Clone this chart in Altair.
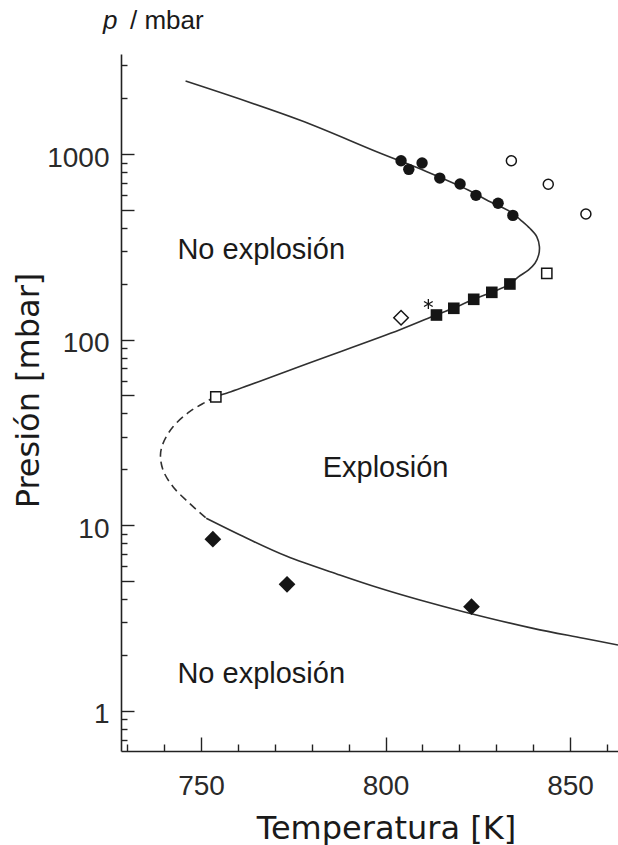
import altair as alt
import pandas as pd

# ---------------- values ----------------
# explosion-limit curve (T in K, p in mbar), in drawing order
curve_upper_T = [745.8, 776.7, 797.6, 811.2, 822.4, 827.4, 834.5, 836.4, 839.1, 841.0,
                 841.7, 841.5, 840.5, 838.7, 836.0, 833.7, 828.8, 823.9, 818.5, 813.8,
                 803.9, 779.5, 756.9, 754.0]
curve_upper_p = [2472, 1525, 1029, 803, 640, 565, 480, 445, 398, 358,
                 317, 286, 258, 237, 218, 199, 180, 165, 148, 136,
                 113, 75.1, 51.4, 49.5]
curve_dashed_T = [754.0, 751.4, 746.9, 742.4, 739.7, 739.0, 739.7, 742.4, 746.9, 751.4]
curve_dashed_p = [49.5, 46.3, 40.9, 33.9, 27.6, 23.9, 19.8, 16.1, 13.1, 10.9]
curve_lower_T = [751.4, 762.3, 773.1, 787.6, 798.5, 809.3, 821.1, 840.0, 853.6, 863.0]
curve_lower_p = [10.9, 8.53, 6.82, 5.39, 4.57, 3.95, 3.42, 2.78, 2.46, 2.26]

# measured points
filled_circle_T = [804.2, 806.3, 809.9, 814.7, 820.2, 824.5, 830.5, 834.5]
filled_circle_p = [920, 827, 895, 742, 689, 599, 543, 467]
open_circle_T = [834.1, 844.1, 854.3]
open_circle_p = [920, 687, 475]
open_square_T = [754.0, 843.7]
open_square_p = [49.2, 227.6]
filled_square_T = [813.8, 818.5, 823.9, 828.8, 833.7]
filled_square_p = [135.7, 147.5, 164.9, 179.8, 199.4]
asterisk_T = [811.6]
asterisk_p = [155.5]
open_diamond_T = [804.2]
open_diamond_p = [131.2]
filled_diamond_T = [753.2, 773.3, 823.3]
filled_diamond_p = [8.4, 4.80, 3.64]

# region annotations
region_labels = ["No explosión", "Explosión", "No explosión"]
region_T = [766.3, 800.0, 766.3]
region_p = [305, 20.4, 1.585]

# axis ticks
x_tick_values = [730, 740, 750, 760, 770, 780, 790, 800, 810, 820, 830, 840, 850, 860]
y_tick_values = [0.7, 0.8, 0.9, 1, 2, 3, 4, 5, 6, 7, 8, 9,
                 10, 20, 30, 40, 50, 60, 70, 80, 90,
                 100, 200, 300, 400, 500, 600, 700, 800, 900,
                 1000, 2000, 3000]


def frame(T, p, name="s"):
    return pd.DataFrame({"T": T, "p": p, "i": list(range(len(T))), "seg": name})


solid_df = pd.concat([frame(curve_upper_T, curve_upper_p, "upper"),
                      frame(curve_lower_T, curve_lower_p, "lower")], ignore_index=True)
dashed_df = frame(curve_dashed_T, curve_dashed_p, "dashed")

INK = "#151515"
LINE = "#303030"
LABEL_FONT = "Liberation Sans"

x_scale = alt.Scale(domain=[728.3, 863.0], nice=False, zero=False)
y_scale = alt.Scale(type="log", domain=[0.607, 3460], nice=False)

x_axis = alt.Axis(
    values=x_tick_values,
    title="Temperatura [K]",
    titleFont="DejaVu Sans", titleFontSize=32, titleFontWeight="normal", titleColor="#1a1a1a",
    titleX=265, titleY=87, titleBaseline="alphabetic", titleAlign="center",
    labelExpr="datum.value % 50 == 0 ? format(datum.value, 'd') : ''",
    labelFont=LABEL_FONT, labelFontSize=28, labelColor="#2a2a2a",
    labelPadding=35, labelOverlap=False, labelFlush=False,
    tickSize={"condition": {"test": "datum.value % 50 == 0", "value": -14}, "value": -7},
    tickColor="#222", tickWidth=1.4, domainColor="#222", domainWidth=1.6, grid=False,
)

y_axis = alt.Axis(
    values=y_tick_values,
    title="Presión [mbar]",
    titleFont="DejaVu Sans", titleFontSize=32, titleFontWeight="normal", titleColor="#1a1a1a",
    titleX=-83, titleY=336, titleBaseline="alphabetic", titleAlign="center",
    labelExpr="indexof([1, 10, 100, 1000], datum.value) >= 0 ? format(datum.value, 'd') : ''",
    labelFont=LABEL_FONT, labelFontSize=28, labelColor="#2a2a2a",
    labelPadding=25, labelOffset=4, labelOverlap=False, labelFlush=False,
    tickSize={"condition": {"test": "indexof([1, 5, 10, 50, 100, 500, 1000], datum.value) >= 0",
                            "value": -13}, "value": -6},
    tickColor="#222", tickWidth=1.4, domainColor="#222", domainWidth=1.6, grid=False,
)

X = alt.X("T:Q", scale=x_scale, axis=x_axis)
Y = alt.Y("p:Q", scale=y_scale, axis=y_axis)

solid = alt.Chart(solid_df).mark_line(
    color=LINE, strokeWidth=1.6, interpolate="catmull-rom"
).encode(x=X, y=Y, order="i:Q", detail="seg:N")

dashed = alt.Chart(dashed_df).mark_line(
    color=LINE, strokeWidth=1.6, strokeDash=[8, 5], interpolate="catmull-rom"
).encode(x=X, y=Y, order="i:Q")


def filled(T, p, shape, size):
    return alt.Chart(frame(T, p)).mark_point(
        shape=shape, filled=True, color=INK, size=size, opacity=1
    ).encode(x=X, y=Y)


def hollow(T, p, shape, size):
    return alt.Chart(frame(T, p)).mark_point(
        shape=shape, filled=True, fill="white", stroke=INK, strokeWidth=1.5,
        size=size, opacity=1
    ).encode(x=X, y=Y)


asterisk_path = "M0,-1L0,1M-0.87,-0.5L0.87,0.5M-0.87,0.5L0.87,-0.5"

layers = [
    solid,
    dashed,
    filled(filled_circle_T, filled_circle_p, "circle", 130),
    hollow(open_circle_T, open_circle_p, "circle", 100),
    hollow(open_square_T, open_square_p, "square", 105),
    filled(filled_square_T, filled_square_p, "square", 135),
    hollow(open_diamond_T, open_diamond_p, "diamond", 210),
    filled(filled_diamond_T, filled_diamond_p, "diamond", 280),
    alt.Chart(frame(asterisk_T, asterisk_p)).mark_point(
        shape=asterisk_path, filled=False, stroke=INK, strokeWidth=1.3, size=100, opacity=1
    ).encode(x=X, y=Y),
    alt.Chart(pd.DataFrame({"T": region_T, "p": region_p, "label": region_labels})).mark_text(
        font=LABEL_FONT, fontSize=29, color="#1a1a1a", align="center", baseline="middle"
    ).encode(x=X, y=Y, text="label:N"),
    alt.Chart(pd.DataFrame({"t": ["p"]})).mark_text(
        font=LABEL_FONT, fontSize=26, fontStyle="italic", color="#1a1a1a",
        align="left", baseline="alphabetic"
    ).encode(x=alt.value(-18), y=alt.value(-25), text="t:N"),
    alt.Chart(pd.DataFrame({"t": ["/ mbar"]})).mark_text(
        font=LABEL_FONT, fontSize=26, color="#1a1a1a",
        align="left", baseline="alphabetic"
    ).encode(x=alt.value(9), y=alt.value(-25), text="t:N"),
]

chart = alt.layer(*layers).properties(
    width=497,
    height=697,
    padding={"left": 121, "top": 54, "right": 0, "bottom": 94},
    autosize=alt.AutoSizeParams(type="none"),
    background="white",
).configure_view(strokeWidth=0)

chart.save("out.html", embed_options={"renderer": "svg", "actions": False})
